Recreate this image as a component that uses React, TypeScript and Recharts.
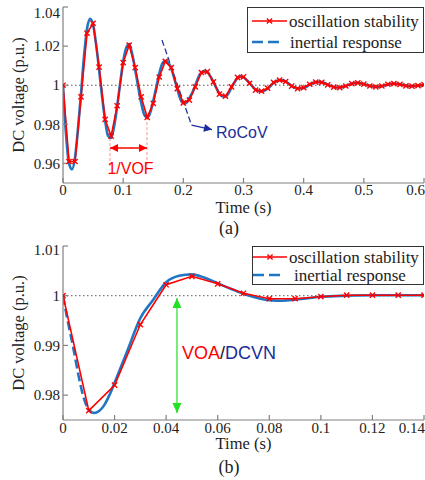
import { LineChart, Line, XAxis, YAxis, ReferenceLine, ReferenceDot, Legend } from 'recharts'

const SERIF = '"Liberation Serif", "DejaVu Serif", serif'
const SANS = '"Liberation Sans", Arial, sans-serif'
const RED = '#ff0000'
const BLUE = '#1f77c4'
const NAVY = '#1a2d9a'
const GREEN = '#22e022'
const AXIS = '#808080'
const TXT = '#222'

// (a) full transient, 0 - 0.6 s
// oscillation stability, sampled every 10 ms
const oscA = [
  1.0, 0.961, 0.961, 0.994, 1.0266, 1.0317, 1.0093, 0.9825, 0.974, 0.9895,
  1.0116, 1.0205, 1.009, 0.994, 0.9836, 0.9907, 1.0042, 1.0122, 1.009, 0.9983,
  0.991, 0.9924, 0.9992, 1.0065, 1.007, 1.0017, 0.9954, 0.9944, 0.9992, 1.004,
  1.0043, 1.001, 0.9975, 0.997, 0.9985, 1.0015, 1.0026, 1.0018, 0.9995, 0.9983,
  0.9988, 1.0005, 1.0016, 1.0015, 1.0002, 0.999, 0.9988, 0.9996, 1.0008, 1.0012,
  1.0006, 0.9996, 0.9992, 0.9996, 1.0005, 1.0008, 1.0004, 0.9997, 0.9995, 0.9998,
  1.0003,
]
// inertial response, every 5 ms up to 0.3 s
const inertA1 = [
  1.0, 0.975, 0.96, 0.957, 0.963, 0.978, 0.996, 1.015, 1.029, 1.034,
  1.031, 1.021, 1.008, 0.994, 0.982, 0.974, 0.973, 0.979, 0.989, 1.001,
  1.012, 1.019, 1.021, 1.016, 1.008, 0.999, 0.991, 0.985, 0.9835, 0.986,
  0.992, 0.999, 1.006, 1.011, 1.0125, 1.0115, 1.0085, 1.0035, 0.998, 0.993,
  0.9908, 0.991, 0.9935, 0.9962, 1.0, 1.004, 1.0065, 1.0072, 1.0066, 1.0045,
  1.0017, 0.9985, 0.9958, 0.9944, 0.9943, 0.9958, 0.9988, 1.0015, 1.0036, 1.0045,
  1.004,
]
// then every 10 ms, 0.31 - 0.6 s
const inertA2 = [
  1.0012, 0.9978, 0.9968, 0.9982, 1.0012, 1.0027, 1.002, 0.9997, 0.9983, 0.9986,
  1.0003, 1.0016, 1.0016, 1.0003, 0.9991, 0.9988, 0.9996, 1.0008, 1.0012, 1.0006,
  0.9997, 0.9992, 0.9995, 1.0004, 1.0008, 1.0005, 0.9998, 0.9995, 0.9998, 1.0002,
]
const ticksXA = [0, 0.1, 0.2, 0.3, 0.4, 0.5, 0.6]
const ticksYA = [0.96, 0.98, 1, 1.02, 1.04]

// (b) first 0.14 s
const oscB = [1.0, 0.9769, 0.982, 0.9942, 1.0022, 1.0039, 1.0024, 1.0005, 0.9994, 0.9994, 0.9998, 1.0001, 1.0001, 1.0001, 1.0001]
const inertTimesB = [
  0, 0.002, 0.004, 0.006, 0.008, 0.01, 0.012, 0.014, 0.016, 0.018, 0.02, 0.025, 0.03, 0.035, 0.04, 0.045,
  0.05, 0.055, 0.06, 0.065, 0.07, 0.075, 0.08, 0.085, 0.09, 0.095, 0.1, 0.11, 0.12, 0.13, 0.14,
]
const inertB = [
  1.0, 0.9945, 0.9895, 0.984, 0.9795, 0.977, 0.9764, 0.9768, 0.978, 0.98, 0.9825, 0.989, 0.9955, 0.9992, 1.0027, 1.004,
  1.0043, 1.0036, 1.0025, 1.0014, 1.0004, 0.9996, 0.9991, 0.999, 0.9992, 0.9995, 0.9998, 1.0, 1.0001, 1.0001, 1.0001,
]
const ticksXB = [0, 0.02, 0.04, 0.06, 0.08, 0.1, 0.12, 0.14]
const ticksYB = [0.98, 0.99, 1, 1.01]

const redA = oscA.map((v, i) => ({ t: +(i * 0.01).toFixed(2), v }))
const blueA = [
  ...inertA1.map((v, i) => ({ t: +(i * 0.005).toFixed(3), v })),
  ...inertA2.map((v, i) => ({ t: +(0.31 + i * 0.01).toFixed(2), v })),
]
const redB = oscB.map((v, i) => ({ t: +(i * 0.01).toFixed(2), v }))
const blueB = inertTimesB.map((t, i) => ({ t, v: inertB[i] }))
const blueBDash = blueB.filter(d => d.t <= 0.01)
const blueBSolid = blueB.filter(d => d.t >= 0.01)

const XMark = (p: any) => {
  const { cx, cy } = p
  if (cx == null || cy == null) return <g key={p.index} />
  const s = 2.6
  return (
    <path key={p.index} d={`M${cx - s},${cy - s}L${cx + s},${cy + s}M${cx - s},${cy + s}L${cx + s},${cy - s}`}
      stroke={RED} strokeWidth={1.4} fill="none" />
  )
}

// last label sits at the right border, keep it inside the picture
const makeXTick = (lastVal: number) => (p: any) => {
  const last = p.payload.value === lastVal
  return (
    <text x={last ? p.x + 1 : p.x} y={p.y} dy="0.71em" textAnchor={last ? 'end' : 'middle'}
      fontFamily={SERIF} fontSize={15} fill={TXT}>
      {String(p.payload.value)}
    </text>
  )
}

const makeYTick = (topVal: number, shift: number) => (p: any) => (
  <text x={p.x} y={p.y + (p.payload.value === topVal ? shift : 0)} dy="0.35em" textAnchor="end"
    fontFamily={SERIF} fontSize={15} fill={TXT}>
    {String(p.payload.value)}
  </text>
)

// line with filled arrow heads, drawn from the reference line's computed ends
const arrowShape = (color: string, both: boolean, width = 1.2, L = 9, W = 4) => (p: any) => {
  const { x1, y1, x2, y2 } = p
  const a = Math.atan2(y2 - y1, x2 - x1)
  const head = (x: number, y: number, ang: number) => {
    const bx = x - L * Math.cos(ang)
    const by = y - L * Math.sin(ang)
    const px = -Math.sin(ang) * W
    const py = Math.cos(ang) * W
    return `${x},${y} ${bx + px},${by + py} ${bx - px},${by - py}`
  }
  return (
    <g>
      <line x1={x1} y1={y1} x2={x2} y2={y2} stroke={color} strokeWidth={width} />
      <polygon points={head(x2, y2, a)} fill={color} />
      {both && <polygon points={head(x1, y1, a + Math.PI)} fill={color} />}
    </g>
  )
}

function LegendBox({ w, h, r1, r2, lineEnd, text1, text2 }: any) {
  return (
    <svg width={w} height={h} style={{ display: 'block' }}>
      <rect x={0.5} y={0.5} width={w - 1} height={h - 1} fill="#fff" stroke="#333" />
      <line x1={lineEnd[0]} y1={r1} x2={lineEnd[1]} y2={r1} stroke={RED} strokeWidth={1.6} />
      <XMark cx={(lineEnd[0] + lineEnd[1]) / 2} cy={r1} />
      <text x={text1} y={r1 + 6} fontFamily={SERIF} fontSize={17} fill={TXT}>oscillation stability</text>
      <line x1={lineEnd[0]} y1={r2} x2={lineEnd[1] - 5} y2={r2} stroke={BLUE} strokeWidth={2.6} strokeDasharray="11 5" />
      <text x={text2} y={r2 + 6} fontFamily={SERIF} fontSize={17} fill={TXT}>inertial response</text>
    </svg>
  )
}

const axisStyle = { stroke: AXIS, strokeWidth: 1.2 }
const yLabel = {
  value: 'DC voltage (p.u.)', angle: -90, position: 'insideLeft', offset: 18,
  fontFamily: SERIF, fontSize: 16.5, fill: TXT, style: { textAnchor: 'middle' },
}

function ChartA() {
  return (
    <LineChart width={425} height={240} margin={{ top: 7, right: 1, bottom: 0, left: 0 }}>
      <XAxis type="number" dataKey="t" domain={[0, 0.6]} ticks={ticksXA} interval={0} allowDataOverflow
        height={57} axisLine={axisStyle} tickLine={axisStyle} tickSize={-5} tickMargin={6} tick={makeXTick(0.6)}
        label={{ value: 'Time (s)', position: 'insideBottom', offset: 27, fontFamily: SERIF, fontSize: 16.5, fill: TXT }} />
      <XAxis xAxisId="top" orientation="top" type="number" domain={[0, 0.6]} ticks={ticksXA} interval={0}
        allowDataOverflow height={0} axisLine={axisStyle} tickLine={axisStyle} tickSize={-5} tick={false} />
      <YAxis type="number" domain={[0.95, 1.04]} ticks={ticksYA} interval={0} allowDataOverflow width={63}
        axisLine={axisStyle} tickLine={axisStyle} tickSize={-5} tickMargin={8} tick={makeYTick(1.04, 6)}
        label={yLabel} />
      <YAxis yAxisId="right" orientation="right" type="number" domain={[0.95, 1.04]} ticks={ticksYA} interval={0}
        allowDataOverflow width={0} axisLine={axisStyle} tickLine={axisStyle} tickSize={-5} tick={false} />
      <ReferenceLine y={1} stroke="#555" strokeDasharray="1.5 2.5" strokeWidth={1} />
      <ReferenceLine segment={[{ x: 0.0781, y: 0.973 }, { x: 0.0781, y: 0.9577 }]} ifOverflow="visible"
        stroke="#ff7070" strokeDasharray="3 2" strokeWidth={0.8} />
      <ReferenceLine segment={[{ x: 0.1396, y: 0.9837 }, { x: 0.1396, y: 0.9577 }]} ifOverflow="visible"
        stroke="#ff7070" strokeDasharray="3 2" strokeWidth={0.8} />
      <ReferenceLine segment={[{ x: 0.0781, y: 0.9679 }, { x: 0.1396, y: 0.9679 }]} ifOverflow="visible"
        shape={arrowShape(RED, true, 1.4, 8, 4)} />
      <ReferenceLine segment={[{ x: 0.1645, y: 1.0231 }, { x: 0.2136, y: 0.9796 }]} ifOverflow="visible"
        stroke={NAVY} strokeDasharray="6 3" strokeWidth={1.2} />
      <ReferenceLine segment={[{ x: 0.2136, y: 0.9796 }, { x: 0.2476, y: 0.9773 }]} ifOverflow="visible"
        shape={arrowShape(NAVY, false, 1.2, 8, 4)} />
      <ReferenceDot x={0.1122} y={0.9546} ifOverflow="visible" shape={(p: any) => (
        <text x={p.cx} y={p.cy} textAnchor="middle" fontFamily={SANS} fontSize={16} fill={RED}>1/VOF</text>
      )} />
      <ReferenceDot x={0.2543} y={0.973} ifOverflow="visible" shape={(p: any) => (
        <text x={p.cx} y={p.cy} textAnchor="start" fontFamily={SANS} fontSize={16} fill={NAVY}>RoCoV</text>
      )} />
      <Line data={blueA} dataKey="v" type="monotone" stroke={BLUE} strokeWidth={2.6} dot={false} isAnimationActive={false} />
      <Line data={redA} dataKey="v" type="linear" stroke={RED} strokeWidth={1.6} dot={XMark} isAnimationActive={false} />
      <Legend layout="horizontal" verticalAlign="middle" align="center"
        wrapperStyle={{ top: 7, left: 247, width: 177, height: 46 }}
        content={() => <LegendBox w={177} h={46} r1={14} r2={35} lineEnd={[5, 40]} text1={42} text2={43} />} />
    </LineChart>
  )
}

function ChartB() {
  return (
    <LineChart width={425} height={240} margin={{ top: 6, right: 1, bottom: 0, left: 0 }}>
      <XAxis type="number" dataKey="t" domain={[0, 0.14]} ticks={ticksXB} interval={0} allowDataOverflow
        height={60} axisLine={axisStyle} tickLine={axisStyle} tickSize={-5} tickMargin={7} tick={makeXTick(0.14)}
        label={{ value: 'Time (s)', position: 'insideBottom', offset: 31, fontFamily: SERIF, fontSize: 16.5, fill: TXT }} />
      <XAxis xAxisId="top" orientation="top" type="number" domain={[0, 0.14]} ticks={ticksXB} interval={0}
        allowDataOverflow height={0} axisLine={axisStyle} tickLine={axisStyle} tickSize={-5} tick={false} />
      <YAxis type="number" domain={[0.975, 1.01]} ticks={ticksYB} interval={0} allowDataOverflow width={63}
        axisLine={axisStyle} tickLine={axisStyle} tickSize={-5} tickMargin={8} tick={makeYTick(1.01, 4)}
        label={yLabel} />
      <YAxis yAxisId="right" orientation="right" type="number" domain={[0.975, 1.01]} ticks={ticksYB} interval={0}
        allowDataOverflow width={0} axisLine={axisStyle} tickLine={axisStyle} tickSize={-5} tick={false} />
      <ReferenceLine y={1} stroke="#555" strokeDasharray="1.5 2.5" strokeWidth={1} />
      <ReferenceLine segment={[{ x: 0.0442, y: 0.99954 }, { x: 0.0442, y: 0.9764 }]} ifOverflow="visible"
        shape={arrowShape(GREEN, true, 1.2, 10, 4.5)} />
      <ReferenceDot x={0.04615} y={0.98717} ifOverflow="visible" shape={(p: any) => (
        <text x={p.cx} y={p.cy} textAnchor="start" fontFamily={SANS} fontSize={18}>
          <tspan fill={RED}>VOA</tspan><tspan fill="#111">/</tspan><tspan fill={NAVY}>DCVN</tspan>
        </text>
      )} />
      <Line data={blueBDash} dataKey="v" type="monotone" stroke={BLUE} strokeWidth={2.6} strokeDasharray="9 4" dot={false} isAnimationActive={false} />
      <Line data={blueBSolid} dataKey="v" type="monotone" stroke={BLUE} strokeWidth={2.6} dot={false} isAnimationActive={false} />
      <Line data={redB} dataKey="v" type="linear" stroke={RED} strokeWidth={1.6} dot={XMark} isAnimationActive={false} />
      <Legend layout="horizontal" verticalAlign="middle" align="center"
        wrapperStyle={{ top: 6, left: 252, width: 172, height: 39 }}
        content={() => <LegendBox w={172} h={39} r1={11} r2={29} lineEnd={[1, 35]} text1={37} text2={42} />} />
    </LineChart>
  )
}

export default function App() {
  return (
    <div style={{ position: 'absolute', left: 0, top: 0, width: 425, height: 480, background: '#fff', fontFamily: SERIF }}>
      <div style={{ position: 'absolute', left: 0, top: 0 }}>
        <ChartA />
      </div>
      <div style={{ position: 'absolute', left: 0, top: 219, width: 458, textAlign: 'center', fontSize: 18, lineHeight: '18px', color: TXT }}>
        (a)
      </div>
      <div style={{ position: 'absolute', left: 0, top: 240 }}>
        <ChartB />
      </div>
      <div style={{ position: 'absolute', left: 0, top: 458, width: 458, textAlign: 'center', fontSize: 18, lineHeight: '18px', color: TXT }}>
        (b)
      </div>
    </div>
  )
}
